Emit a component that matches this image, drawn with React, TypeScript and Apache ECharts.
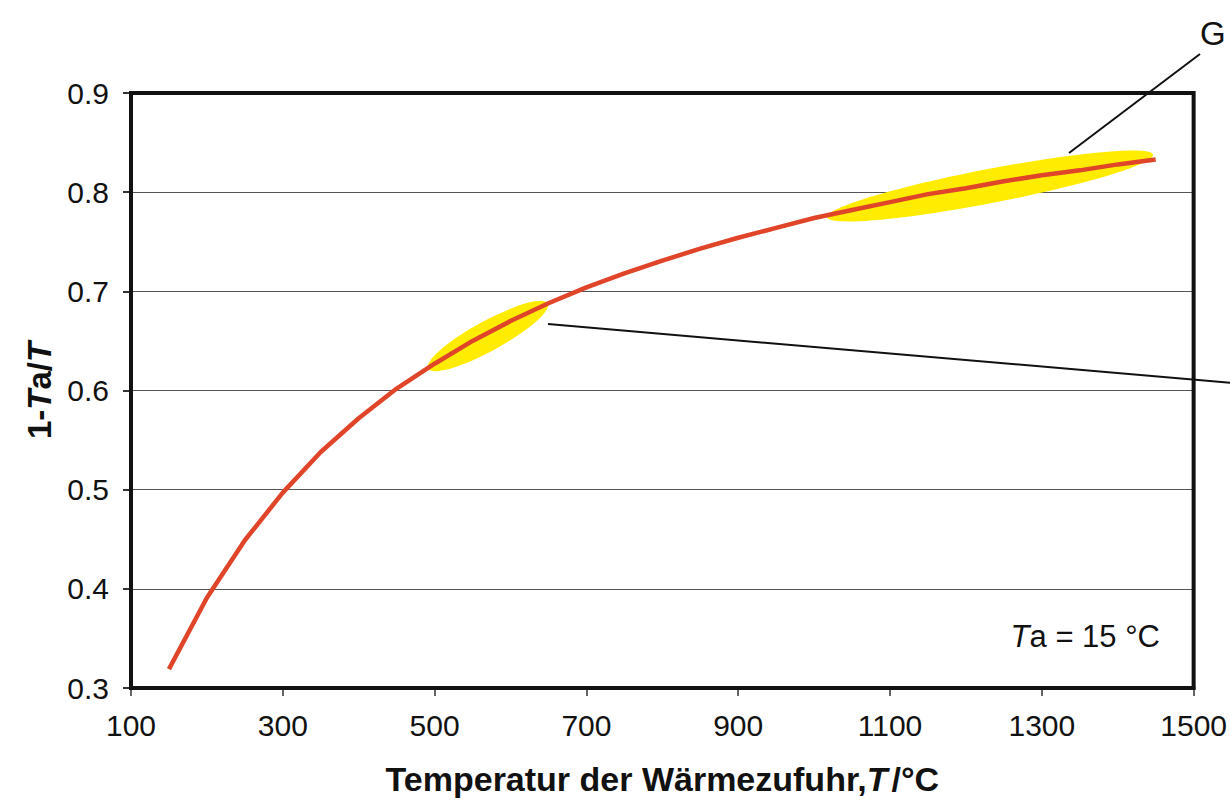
import React, { useEffect, useRef } from "react";
import * as echarts from "echarts";

// Supply temperature T in °C
const temperatures: number[] = [
  150, 200, 250, 300, 350, 400, 450, 500, 550, 600, 650, 700, 750, 800,
  850, 900, 950, 1000, 1050, 1100, 1150, 1200, 1250, 1300, 1350, 1400, 1450,
];
// Carnot factor 1 - Ta/T
const carnotFactor: number[] = [
  0.319, 0.391, 0.449, 0.497, 0.538, 0.572, 0.602, 0.627, 0.65, 0.67, 0.688,
  0.704, 0.718, 0.731, 0.743, 0.754, 0.764, 0.774, 0.782, 0.79, 0.798, 0.804,
  0.811, 0.817, 0.822, 0.828, 0.833,
];
const xTicks: number[] = [100, 300, 500, 700, 900, 1100, 1300, 1500];
const yTicks: number[] = [0.3, 0.4, 0.5, 0.6, 0.7, 0.8, 0.9];

const FONT = "'Liberation Sans', Arial, sans-serif";

export default function App() {
  const ref = useRef<HTMLDivElement>(null);
  useEffect(() => {
    if (!ref.current) return;
    const chart = echarts.init(ref.current, undefined, { renderer: "svg" });
    const data = temperatures.map((t, i) => [t, carnotFactor[i]]);
    chart.setOption({
      animation: false,
      backgroundColor: "#ffffff",
      textStyle: { fontFamily: FONT },
      grid: {
        left: 131,
        top: 93,
        width: 1064,
        height: 595,
        show: true,
        borderColor: "#111111",
        borderWidth: 4,
        backgroundColor: "transparent",
        z: 3,
      },
      xAxis: {
        type: "value",
        min: xTicks[0],
        max: xTicks[xTicks.length - 1],
        interval: 200,
        axisLine: { show: true, lineStyle: { color: "#111111", width: 4 } },
        axisTick: { show: true, length: 8, lineStyle: { color: "#333333", width: 1.5 } },
        splitLine: { show: false },
        axisLabel: {
          fontSize: 30,
          color: "#111111",
          margin: 22,
          fontFamily: FONT,
          formatter: (v: number) => String(v),
        },
        name: "{b|Temperatur der Wärmezufuhr,}{i|T}{b|/°C}",
        nameLocation: "middle",
        nameGap: 74,
        nameTextStyle: {
          rich: {
            b: { fontSize: 34, fontWeight: "bold", color: "#111111", fontFamily: FONT },
            i: { fontSize: 34, fontWeight: "bold", fontStyle: "italic", color: "#111111", fontFamily: FONT, padding: [0, 4, 0, 0] },
          },
        },
      },
      yAxis: {
        type: "value",
        min: yTicks[0],
        max: yTicks[yTicks.length - 1],
        interval: 0.1,
        axisLine: { show: true, lineStyle: { color: "#111111", width: 4 } },
        axisTick: { show: true, length: 8, lineStyle: { color: "#333333", width: 2 } },
        splitLine: { show: true, lineStyle: { color: "#555555", width: 1 } },
        axisLabel: {
          fontSize: 30,
          color: "#111111",
          margin: 22,
          fontFamily: FONT,
          formatter: (v: number) => v.toFixed(1),
        },
        name: "{b|1-}{i|T}{b|a/}{i|T}",
        nameLocation: "middle",
        nameGap: 75,
        nameTextStyle: {
          rich: {
            b: { fontSize: 33, fontWeight: "bold", color: "#111111", fontFamily: FONT },
            i: { fontSize: 33, fontWeight: "bold", fontStyle: "italic", color: "#111111", fontFamily: FONT },
          },
        },
      },
      graphic: [
        {
          type: "ellipse",
          x: 488,
          y: 336,
          rotation: 0.5,
          shape: { cx: 0, cy: 0, rx: 68, ry: 15 },
          style: { fill: "#FFEC00" },
          z: 1,
        },
        {
          type: "ellipse",
          x: 990,
          y: 186,
          rotation: 0.19,
          shape: { cx: 0, cy: 0, rx: 166, ry: 17 },
          style: { fill: "#FFEC00" },
          z: 1,
        },
        {
          type: "line",
          shape: { x1: 548, y1: 324, x2: 1232, y2: 383 },
          style: { stroke: "#111111", lineWidth: 2 },
          z: 10,
        },
        {
          type: "line",
          shape: { x1: 1069, y1: 153, x2: 1200, y2: 54 },
          style: { stroke: "#111111", lineWidth: 2 },
          z: 10,
        },
        {
          type: "text",
          x: 1200,
          y: 17,
          style: { text: "G", fontSize: 33, fill: "#111111", fontFamily: FONT },
          z: 10,
        },
        {
          type: "text",
          right: 70,
          top: 621,
          style: {
            text: "{i|T}{n|a = 15 °C}",
            rich: {
              i: { fontSize: 31, fontStyle: "italic", fill: "#111111", fontFamily: FONT },
              n: { fontSize: 31, fill: "#111111", fontFamily: FONT },
            },
          },
          z: 10,
        },
      ],
      series: [
        {
          type: "line",
          data,
          symbol: "none",
          smooth: false,
          lineStyle: { color: "#E0452A", width: 4.5 },
          z: 5,
        },
      ],
    });
    return () => chart.dispose();
  }, []);
  return (
    <div
      ref={ref}
      style={{ position: "fixed", left: 0, top: 0, width: 1230, height: 805 }}
    />
  );
}
